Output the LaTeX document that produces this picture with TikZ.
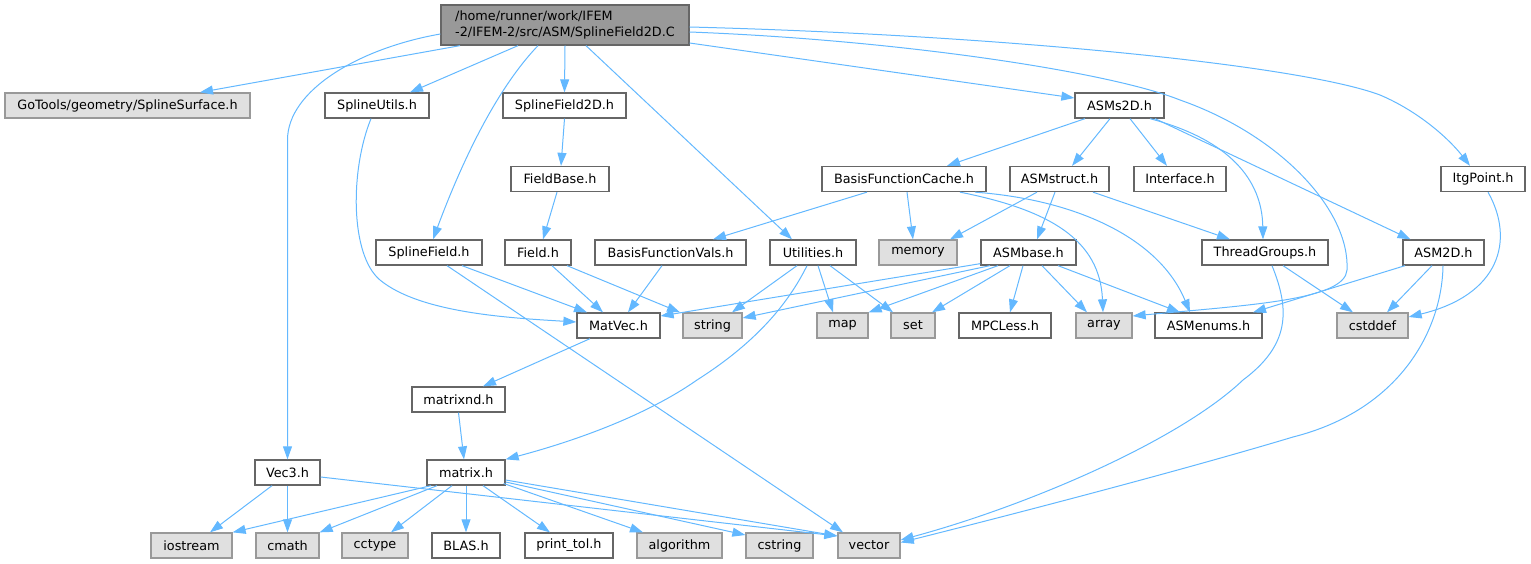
\documentclass[tikz,border=0pt]{standalone}
\usepackage{fontspec}
\setmainfont{DejaVu Sans}
\usetikzlibrary{arrows.meta}
\definecolor{edgec}{HTML}{63B8FF}
\definecolor{wborder}{HTML}{666666}
\definecolor{gborder}{HTML}{999999}
\definecolor{gfill}{HTML}{E0E0E0}
\definecolor{rfill}{HTML}{999999}
\begin{document}
\begin{tikzpicture}[x=1pt,y=-1pt,
  box/.style={draw, line width=1.3pt, minimum height=25pt, inner sep=0pt,
    font=\fontsize{12.8}{16}\selectfont, text=black},
  wn/.style={box, draw=wborder, fill=white},
  gn/.style={box, draw=gborder, fill=gfill},
  rn/.style={box, draw=wborder, fill=rfill, minimum height=40pt, align=left},
  dep/.style={draw=edgec, line width=1pt, -{Triangle[length=13pt,width=9pt]}}
]
\useasboundingbox (0,0) rectangle (1531,564);
% nodes
\node[rn, minimum width=248pt] (root) at (565,25) {/home/runner/work/IFEM\\-2/IFEM-2/src/ASM/SplineField2D.C};
\node[gn, minimum width=245pt] (sss) at (127.5,105.5) {GoTools/geometry/SplineSurface.h};
\node[wn, minimum width=104pt] (splineutils) at (377,105.5) {SplineUtils.h};
\node[wn, minimum width=123pt] (sf2dh) at (564.5,105.5) {SplineField2D.h};
\node[wn, minimum width=89pt] (asms2d) at (1119.5,105.5) {ASMs2D.h};
\node[wn, minimum width=98pt] (fieldbase) at (560,179) {FieldBase.h};
\node[wn, minimum width=164pt] (bfc) at (904,179) {BasisFunctionCache.h};
\node[wn, minimum width=99pt] (asmstruct) at (1059.5,179) {ASMstruct.h};
\node[wn, minimum width=92pt] (interface) at (1180,179) {Interface.h};
\node[wn, minimum width=84pt] (itgpoint) at (1483,179) {ItgPoint.h};
\node[wn, minimum width=106pt] (splinefield) at (429,252.5) {SplineField.h};
\node[wn, minimum width=66pt] (field) at (538,252.5) {Field.h};
\node[wn, minimum width=151pt] (bfv) at (670.5,252.5) {BasisFunctionVals.h};
\node[wn, minimum width=86pt] (utilities) at (813,252.5) {Utilities.h};
\node[gn, minimum width=78pt] (memory) at (918,252.5) {memory};
\node[wn, minimum width=95pt] (asmbase) at (1028.5,252.5) {ASMbase.h};
\node[wn, minimum width=126pt] (threadgroups) at (1265,252.5) {ThreadGroups.h};
\node[wn, minimum width=81pt] (asm2d) at (1443.5,252.5) {ASM2D.h};
\node[wn, minimum width=83pt] (matvec) at (618.5,325.5) {MatVec.h};
\node[gn, minimum width=59pt] (string) at (712.5,325.5) {string};
\node[gn, minimum width=51pt] (map) at (842.5,325.5) {map};
\node[gn, minimum width=44pt] (set) at (913,325.5) {set};
\node[wn, minimum width=92pt] (mpcless) at (1005,325.5) {MPCLess.h};
\node[gn, minimum width=56pt] (array) at (1104,325.5) {array};
\node[wn, minimum width=107pt] (asmenums) at (1208.5,325.5) {ASMenums.h};
\node[gn, minimum width=71pt] (cstddef) at (1372.5,325.5) {cstddef};
\node[wn, minimum width=93pt] (matrixnd) at (458.5,399.5) {matrixnd.h};
\node[wn, minimum width=65pt] (vec3) at (287.5,472.5) {Vec3.h};
\node[wn, minimum width=78pt] (matrix) at (466,472.5) {matrix.h};
\node[gn, minimum width=81pt] (iostream) at (191.5,545.5) {iostream};
\node[gn, minimum width=63pt] (cmath) at (287.5,545.5) {cmath};
\node[gn, minimum width=66pt] (cctype) at (375,545.5) {cctype};
\node[wn, minimum width=68pt] (blas) at (466,545.5) {BLAS.h};
\node[wn, minimum width=88pt] (printtol) at (569,545.5) {print\_tol.h};
\node[gn, minimum width=85pt] (algorithm) at (679.5,545.5) {algorithm};
\node[gn, minimum width=67pt] (cstring) at (779.5,545.5) {cstring};
\node[gn, minimum width=62pt] (vector) at (869,545.5) {vector};
% edges from root
\draw[dep] ([xshift=-105pt]root.south) -- ([xshift=72.5pt]sss.north);
\draw[dep] ([xshift=-47pt]root.south) -- ([xshift=33pt]splineutils.north);
\draw[dep] (root.south) -- (sf2dh.north);
\draw[dep] ([xshift=21pt]root.south) -- ([xshift=-21pt]utilities.north);
\draw[dep] ([xshift=-27pt]root.south) .. controls (505,80) and (470,140) .. ([xshift=4pt]splinefield.north);
\draw[dep] ([yshift=-9pt]root.west) .. controls (360,48) and (287.5,90) .. (287.5,140) -- (vec3.north);
\draw[dep] ([yshift=-18pt]root.east) -- ([yshift=7.5pt]asms2d.west);
\draw[dep] ([yshift=-7pt]root.east) .. controls (900,40) and (1110,72) .. (1180,100)
  .. controls (1280,135) and (1350,210) .. (1347,270)
  .. controls (1345,300) and (1250,305) .. ([yshift=9.5pt]array.east);
\draw[dep] ([yshift=-2pt]root.east) .. controls (1000,35) and (1300,65) .. (1380,95)
  .. controls (1420,112) and (1450,140) .. ([xshift=-13pt]itgpoint.north);
% second level
\draw[dep] ([xshift=-6pt]splineutils.south) .. controls (350,170) and (350,255) .. (380,280)
  .. controls (420,313) and (510,318) .. ([yshift=3.5pt]matvec.west);
\draw[dep] (sf2dh.south) -- ([xshift=1pt]fieldbase.north);
\draw[dep] ([xshift=-3pt]fieldbase.south) -- ([xshift=5pt]field.north);
\draw[dep] ([xshift=-34.5pt]asms2d.south) -- ([xshift=43pt]bfc.north);
\draw[dep] ([xshift=-9.5pt]asms2d.south) -- ([xshift=12.5pt]asmstruct.north);
\draw[dep] ([xshift=10.5pt]asms2d.south) -- ([xshift=-13pt]interface.north);
\draw[dep] ([xshift=30.5pt]asms2d.south) .. controls (1230,140) and (1262,180) .. ([xshift=-2pt]threadgroups.north);
\draw[dep] ([xshift=35.5pt]asms2d.south) -- ([xshift=-33pt]asm2d.north);
% third level
\draw[dep] ([xshift=-37pt]bfc.south) -- ([xshift=42.5pt]bfv.north);
\draw[dep] ([xshift=3pt]bfc.south) -- ([xshift=-5pt]memory.north);
\draw[dep] ([xshift=56pt]bfc.south) .. controls (1050,210) and (1100,240) .. ([xshift=-1pt]array.north);
\draw[dep] ([xshift=71pt]bfc.south) .. controls (1080,200) and (1160,240) .. ([xshift=-18.5pt]asmenums.north);
\draw[dep] ([xshift=-22.5pt]asmstruct.south) -- ([xshift=32pt]memory.north);
\draw[dep] ([xshift=-4.5pt]asmstruct.south) -- ([xshift=8.5pt]asmbase.north);
\draw[dep] ([xshift=33.5pt]asmstruct.south) -- ([xshift=-35pt]threadgroups.north);
\draw[dep] ([xshift=5pt]itgpoint.south) .. controls (1515,240) and (1500,295) .. ([yshift=8.5pt]cstddef.east);
% fourth level
\draw[dep] ([xshift=33pt]splinefield.south) -- ([xshift=-31.5pt]matvec.north);
\draw[dep] ([xshift=18pt]splinefield.south) -- ([xshift=-26pt]vector.north);
\draw[dep] ([xshift=14pt]field.south) -- ([xshift=-15.5pt]matvec.north);
\draw[dep] ([xshift=29pt]field.south) -- ([xshift=-32.5pt]string.north);
\draw[dep] ([xshift=-8.5pt]bfv.south) -- ([xshift=9.5pt]matvec.north);
\draw[dep] ([xshift=-16pt]utilities.south) -- ([xshift=19.5pt]string.north);
\draw[dep] ([xshift=5pt]utilities.south) -- ([xshift=-9.5pt]map.north);
\draw[dep] ([xshift=17pt]utilities.south) -- ([xshift=-20pt]set.north);
\draw[dep] ([xshift=-6pt]utilities.south) .. controls (790,300) and (760,340) .. (697,380)
  .. controls (640,420) and (560,445) .. (matrix.north east);
\draw[dep] ([yshift=2pt]asmbase.south west) -- ([yshift=9.5pt]matvec.east);
\draw[dep] ([xshift=-38.5pt]asmbase.south) -- ([yshift=7.5pt]string.east);
\draw[dep] ([xshift=-30.5pt]asmbase.south) -- (map.north east);
\draw[dep] ([xshift=-18.5pt]asmbase.south) -- ([xshift=19pt]set.north);
\draw[dep] ([xshift=-5.5pt]asmbase.south) -- ([xshift=5pt]mpcless.north);
\draw[dep] ([xshift=13.5pt]asmbase.south) -- ([xshift=-17pt]array.north);
\draw[dep] ([xshift=29.5pt]asmbase.south) -- ([xshift=-28.5pt]asmenums.north);
\draw[dep] ([xshift=18pt]threadgroups.south) -- ([xshift=-19.5pt]cstddef.north);
\draw[dep] ([xshift=7pt]threadgroups.south) .. controls (1290,310) and (1290,345) .. (1243,380)
  .. controls (1180,440) and (1030,505) .. ([yshift=5.5pt]vector.east);
\draw[dep] ([xshift=-11.5pt]asm2d.south) -- ([xshift=14.5pt]cstddef.north);
\draw[dep] ([xshift=-38.5pt]asm2d.south) -- ([xshift=44.5pt]asmenums.north);
\draw[dep] ([xshift=-0.5pt]asm2d.south) .. controls (1442,330) and (1400,410) .. (1293,437)
  .. controls (1200,465) and (1050,505) .. ([yshift=3pt]vector.east);
% lower part
\draw[dep] ([xshift=-28.5pt]matvec.south) -- ([xshift=24.5pt]matrixnd.north);
\draw[dep] (matrixnd.south) -- ([xshift=-2pt]matrix.north);
\draw[dep] ([xshift=-15.5pt]vec3.south) -- ([xshift=18.5pt]iostream.north);
\draw[dep] (vec3.south) -- (cmath.north);
\draw[dep] ([yshift=-4.5pt]vec3.east) -- ([yshift=9.5pt]vector.west);
\draw[dep] ([xshift=-35pt]matrix.south) -- (iostream.north east);
\draw[dep] ([xshift=-29pt]matrix.south) -- (cmath.north east);
\draw[dep] ([xshift=-14pt]matrix.south) -- ([xshift=16pt]cctype.north);
\draw[dep] (matrix.south) -- (blas.north);
\draw[dep] ([xshift=17pt]matrix.south) -- ([xshift=-19pt]printtol.north);
\draw[dep] ([xshift=-2pt,yshift=-11pt]matrix.east) -- ([xshift=-36.5pt]algorithm.north);
\draw[dep] ([yshift=-9.5pt]matrix.east) -- ([yshift=10.5pt]cstring.west);
\draw[dep] ([yshift=-7.5pt]matrix.east) -- ([yshift=9.5pt]vector.west);
\end{tikzpicture}
\end{document}
